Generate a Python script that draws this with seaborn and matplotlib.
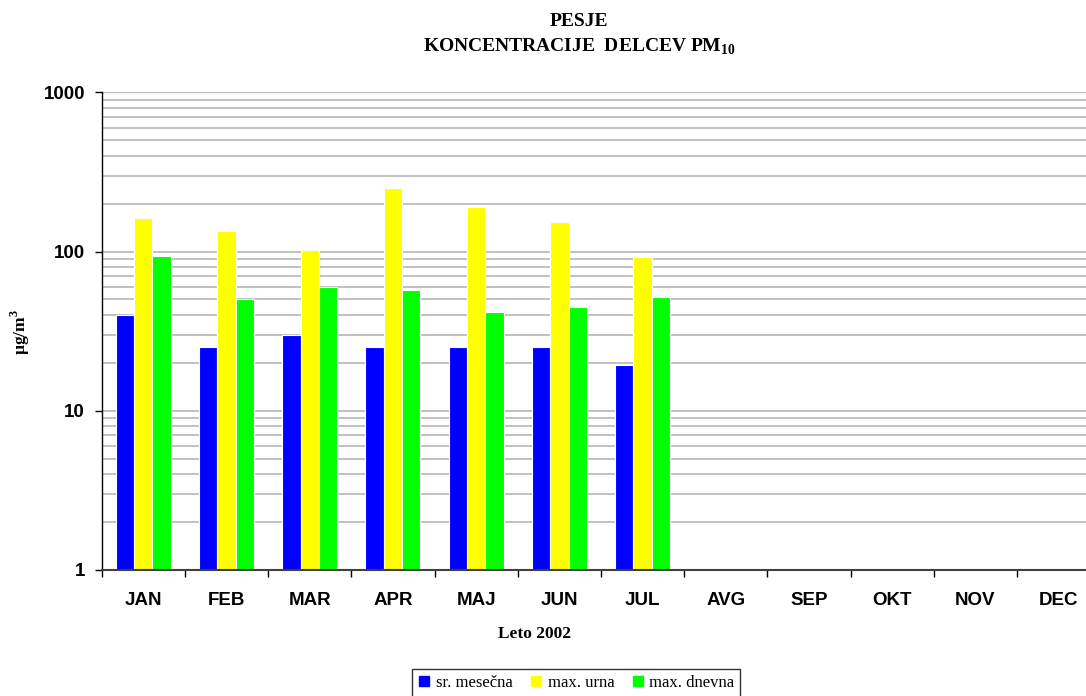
import numpy as np
import pandas as pd
import matplotlib
matplotlib.use("Agg")
import matplotlib.pyplot as plt
from matplotlib.lines import Line2D
from matplotlib.ticker import FixedLocator, NullFormatter
import seaborn as sns

# Monthly PM10 concentrations at Pesje, 2002 (µg/m3)
months = ["JAN", "FEB", "MAR", "APR", "MAJ", "JUN", "JUL",
          "AVG", "SEP", "OKT", "NOV", "DEC"]
series = ["sr. mesečna", "max. urna", "max. dnevna"]
sr_mesecna = [40, 25, 30, 25, 25, 25, 19.5, np.nan, np.nan, np.nan, np.nan, np.nan]
max_urna = [163, 134, 102, 250, 190, 154, 93, np.nan, np.nan, np.nan, np.nan, np.nan]
max_dnevna = [94, 50, 60, 57, 42, 45, 52, np.nan, np.nan, np.nan, np.nan, np.nan]
colors = ["#0000FF", "#FFFF00", "#00FF00"]
y_ticks = [1, 10, 100, 1000]

df = pd.DataFrame({
    "mesec": months * 3,
    "serija": np.repeat(series, len(months)),
    "vrednost": sr_mesecna + max_urna + max_dnevna,
})

sns.set_theme(style="white")
plt.rcParams["font.family"] = ["Liberation Sans", "DejaVu Sans"]
plt.rcParams["text.color"] = "black"
plt.rcParams["xtick.color"] = "black"
plt.rcParams["ytick.color"] = "black"
plt.rcParams["xtick.labelcolor"] = "black"
plt.rcParams["ytick.labelcolor"] = "black"
plt.rcParams["mathtext.fontset"] = "custom"
plt.rcParams["mathtext.rm"] = "Liberation Serif"
plt.rcParams["mathtext.bf"] = "Liberation Serif:bold"

fig = plt.figure(figsize=(10.86, 6.96), dpi=100)
ax = fig.add_axes([101.7 / 1086, 126 / 696, 998.6 / 1086, 477.7 / 696])

sns.barplot(data=df, x="mesec", y="vrednost", hue="serija",
            order=months, hue_order=series, palette=colors,
            width=0.66, edgecolor="white", linewidth=0.8,
            saturation=1, errorbar=None, ax=ax)
ax.set_yscale("log")
ax.set_ylim(1, 1000)
ax.set_xlim(-0.5, len(months) - 0.5)

# y axis: decade labels, gridlines at every minor step
ax.yaxis.set_major_locator(FixedLocator(y_ticks))
ax.set_yticklabels([str(v) for v in y_ticks])
ax.yaxis.set_minor_formatter(NullFormatter())
ax.yaxis.grid(True, which="both", color="#c0c0c0", linewidth=1.4)
ax.xaxis.grid(False)
ax.set_axisbelow(True)
ax.axhline(1000, color="#808080", linewidth=1.6, zorder=0.5)
ax.tick_params(axis="y", which="major", direction="out", length=5, width=1,
               color="black", left=True, pad=7, labelsize=13.5)
ax.tick_params(axis="y", which="minor", length=0)
for lab in ax.get_yticklabels():
    lab.set_fontweight("bold")

# x axis: ticks on category boundaries, labels centred in each month
ax.set_xticks(np.arange(-0.5, len(months)), minor=False)
ax.set_xticklabels([""] * (len(months) + 1))
ax.set_xticks(np.arange(len(months)), minor=True)
ax.set_xticklabels(months, minor=True, fontsize=13.5, fontweight="bold")
ax.tick_params(axis="x", which="major", direction="out", length=5, width=1,
               color="black", bottom=True)
ax.tick_params(axis="x", which="minor", length=0, pad=16)

for side in ["top", "right"]:
    ax.spines[side].set_visible(False)
ax.spines["left"].set_color("black")
ax.spines["left"].set_linewidth(1.0)
ax.spines["bottom"].set_color("#404040")
ax.spines["bottom"].set_linewidth(1.5)

ax.set_xlabel("")
ax.set_ylabel("")
if ax.get_legend() is not None:
    ax.get_legend().remove()

serif = ["Liberation Serif", "DejaVu Serif"]
fig.text(579 / 1086, 1 - 21 / 696, "PESJE", ha="center", va="center",
         fontsize=14, fontweight="bold", family=serif)
fig.text(579 / 1086, 1 - 47 / 696, r"KONCENTRACIJE  DELCEV PM$_{\mathbf{10}}$",
         ha="center", va="center", fontsize=14, fontweight="bold", family=serif)
fig.text(535 / 1086, 1 - 634 / 696, "Leto 2002", ha="center", va="center",
         fontsize=12.5, fontweight="bold", family=serif)
fig.text(20 / 1086, 1 - 332 / 696, r"µg/m$^{\mathbf{3}}$", ha="center", va="center",
         rotation=90, fontsize=12.5, fontweight="bold", family=serif)

handles = [Line2D([0], [0], marker="s", linestyle="", markersize=7,
                  markerfacecolor=c, markeredgecolor=c) for c in colors]
leg = fig.legend(handles, series, loc="center", ncol=3,
                 bbox_to_anchor=(576 / 1086, 1 - 683 / 696),
                 frameon=True, fancybox=False, edgecolor="black",
                 handlelength=0.8, handletextpad=0.3, columnspacing=1.0,
                 borderpad=0.35, prop={"family": serif, "size": 12})
leg.get_frame().set_linewidth(1.0)

fig.savefig("out.png", dpi=100, facecolor="white")
